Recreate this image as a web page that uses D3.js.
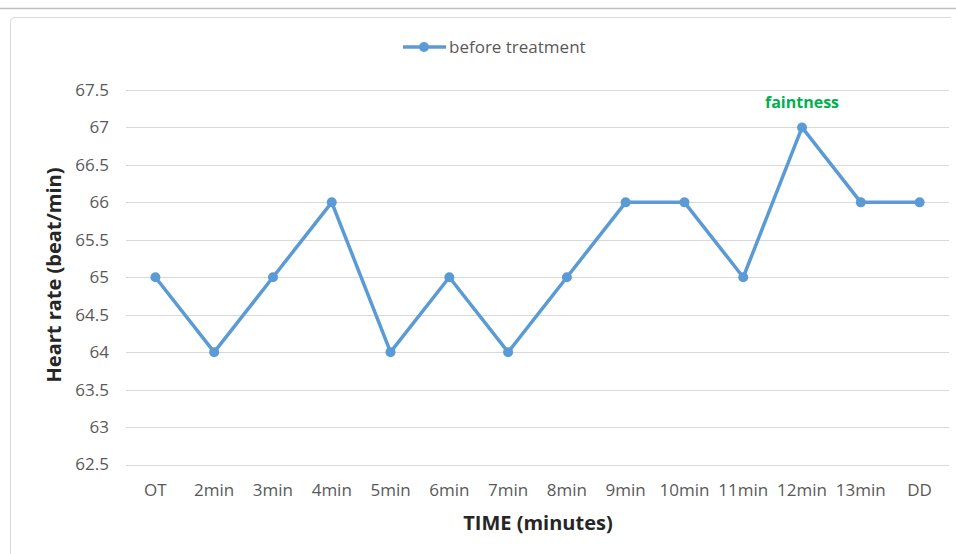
<!DOCTYPE html>
<html><head><meta charset="utf-8">
<script src="https://cdn.jsdelivr.net/npm/d3@7"></script>
<style>body{margin:0;background:#fff}svg{display:block}</style>
</head><body>
<script>
const categories = ["OT","2min","3min","4min","5min","6min","7min","8min","9min","10min","11min","12min","13min","DD"];
const heartRate = [65,64,65,66,64,65,64,65,66,66,65,67,66,66];
const yTicks = [62.5,63,63.5,64,64.5,65,65.5,66,66.5,67,67.5];
const seriesName = "before treatment";
const annotation = {label:"faintness", index:11};

(function(){
const W=956,H=554;
const svg=d3.select("body").append("svg").attr("width",W).attr("height",H);
const font="'Open Sans', 'Liberation Sans', sans-serif";

// frame
svg.append("line").attr("x1",0).attr("x2",W).attr("y1",8.5).attr("y2",8.5).attr("stroke","#bfbfbf").attr("stroke-width",1.5);
svg.append("path").attr("d","M10.5,554 L10.5,22 Q10.5,17.5 15,17.5 L951,17.5").attr("fill","none").attr("stroke","#d9d9d9").attr("stroke-width",1);

const pl=126, pr=949, pt=90, pb=464.5;
const x=d3.scaleBand().domain(categories).range([pl,pr]);
const y=d3.scaleLinear().domain([62.5,67.5]).range([pb,pt]);

// grid
svg.append("g").selectAll("line").data(yTicks).join("line")
  .attr("x1",pl).attr("x2",pr).attr("y1",d=>Math.round(y(d))+0.5).attr("y2",d=>Math.round(y(d))+0.5)
  .attr("stroke","#d9d9d9").attr("stroke-width",1);

// y axis
const ya=svg.append("g").attr("transform",`translate(${pl},0)`)
  .call(d3.axisLeft(y).tickValues(yTicks).tickSize(0).tickPadding(17).tickFormat(d=>String(d)));
ya.select(".domain").remove();
ya.selectAll("text").attr("font-family",font).attr("font-size",17).attr("fill","#595959");

// x axis
const xa=svg.append("g").attr("transform",`translate(0,${pb})`)
  .call(d3.axisBottom(x).tickSize(0).tickPadding(19));
xa.select(".domain").remove();
xa.selectAll("text").attr("font-family",font).attr("font-size",17).attr("fill","#595959");

// line
const cx=d=>x(d)+x.bandwidth()/2;
const line=d3.line().x((d,i)=>cx(categories[i])).y(d=>y(d));
svg.append("path").datum(heartRate).attr("d",line).attr("fill","none")
  .attr("stroke","#5b9bd5").attr("stroke-width",3.5).attr("stroke-linejoin","round");
svg.append("g").selectAll("circle").data(heartRate).join("circle")
  .attr("cx",(d,i)=>cx(categories[i])).attr("cy",d=>y(d)).attr("r",5).attr("fill","#5b9bd5");

// annotation
svg.append("text").attr("x",cx(categories[annotation.index])).attr("y",y(heartRate[annotation.index])-19.5)
  .attr("text-anchor","middle").attr("font-family",font).attr("font-size",16).attr("font-weight","bold")
  .attr("fill","#00b050").text(annotation.label);

// legend
const lg=svg.append("g");
lg.append("line").attr("x1",403).attr("x2",446).attr("y1",47).attr("y2",47).attr("stroke","#5b9bd5").attr("stroke-width",3.5);
lg.append("circle").attr("cx",424).attr("cy",47).attr("r",5).attr("fill","#5b9bd5");
lg.append("text").attr("x",449).attr("y",53).attr("font-family",font).attr("font-size",17).attr("fill","#595959").text(seriesName);

// titles
svg.append("text").attr("x",538).attr("y",530).attr("text-anchor","middle").attr("font-family",font)
  .attr("font-size",20).attr("font-weight","bold").attr("fill","#262626").text("TIME (minutes)");
svg.append("text").attr("transform","translate(61,275) rotate(-90)").attr("text-anchor","middle").attr("font-family",font)
  .attr("font-size",20).attr("font-weight","bold").attr("fill","#262626").text("Heart rate (beat/min)");
})();
</script>
</body></html>
